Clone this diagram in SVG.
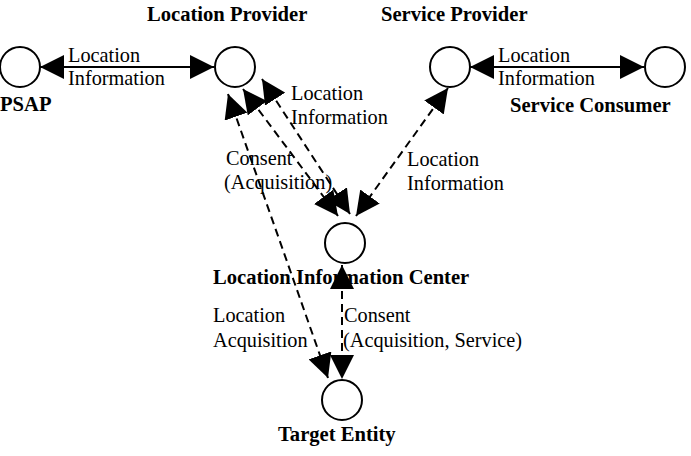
<svg xmlns="http://www.w3.org/2000/svg" width="691" height="456" viewBox="0 0 691 456">
  <style>
    .node circle { fill: #ffffff; stroke: #000000; stroke-width: 2; }
    .title { font-family: "Liberation Serif", "Times New Roman", serif; font-size: 20.6px; font-weight: bold; fill: #000000; }
    .label { font-family: "Liberation Serif", "Times New Roman", serif; font-size: 20.3px; fill: #000000; }
    .solid { stroke: #000000; stroke-width: 2; fill: none; marker-start: url(#arrow); marker-end: url(#arrow); }
    .dashed { stroke: #000000; stroke-width: 2; fill: none; stroke-dasharray: 8 5; marker-start: url(#arrow); marker-end: url(#arrow); }
  </style>
  <defs>
    <marker id="arrow" markerUnits="userSpaceOnUse" markerWidth="24" markerHeight="24" viewBox="0 0 22 22" refX="22" refY="11" orient="auto-start-reverse">
      <path d="M0,0 L22,11 L0,22 Z" fill="#000000"/>
    </marker>
  </defs>

  <rect width="691" height="456" fill="#ffffff"/>

  <g id="connectors">
    <line class="solid" x1="40" y1="67" x2="214" y2="67"/>
    <line class="solid" x1="470" y1="67" x2="644" y2="67"/>
    <line class="dashed" x1="228" y1="94" x2="328" y2="378"/>
    <line class="dashed" x1="243" y1="89" x2="338" y2="216"/>
    <line class="dashed" x1="262" y1="79" x2="350" y2="214"/>
    <line class="dashed" x1="448" y1="88" x2="356" y2="216"/>
    <line class="dashed" x1="342" y1="265" x2="342" y2="379"/>
  </g>

  <g id="connector-labels">
    <text class="label" x="68" y="62">Location</text>
    <text class="label" x="68" y="85">Information</text>
    <text class="label" x="498" y="62">Location</text>
    <text class="label" x="498" y="85">Information</text>
    <text class="label" x="291" y="100">Location</text>
    <text class="label" x="291" y="124">Information</text>
    <text class="label" x="226" y="165">Consent</text>
    <text class="label" x="224" y="189">(Acquisition)</text>
    <text class="label" x="407" y="166">Location</text>
    <text class="label" x="407" y="190">Information</text>
    <text class="label" x="213" y="322">Location</text>
    <text class="label" x="213" y="347">Acquisition</text>
    <text class="label" x="344" y="322">Consent</text>
    <text class="label" x="343" y="347">(Acquisition, Service)</text>
  </g>

  <g id="psap" class="node">
    <circle cx="20" cy="67" r="20"/>
    <text class="title" x="0" y="111">PSAP</text>
  </g>
  <g id="location-provider" class="node">
    <circle cx="235" cy="67" r="20"/>
    <text class="title" x="147" y="21">Location Provider</text>
  </g>
  <g id="service-provider" class="node">
    <circle cx="450" cy="67" r="20"/>
    <text class="title" x="381" y="21">Service Provider</text>
  </g>
  <g id="service-consumer" class="node">
    <circle cx="665" cy="67" r="20"/>
    <text class="title" x="510" y="112">Service Consumer</text>
  </g>
  <g id="location-information-center" class="node">
    <circle cx="345" cy="243" r="20"/>
    <text class="title" x="213" y="284">Location Information Center</text>
  </g>
  <g id="target-entity" class="node">
    <circle cx="342" cy="400" r="20"/>
    <text class="title" x="278" y="441">Target Entity</text>
  </g>
</svg>
